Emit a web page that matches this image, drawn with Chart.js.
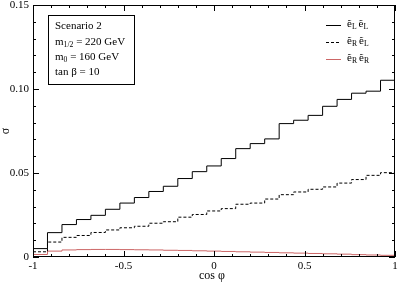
<!DOCTYPE html>
<html>
<head>
<meta charset="utf-8">
<script src="https://cdn.jsdelivr.net/npm/chart.js@4"></script>
<style>
  html, body { margin: 0; padding: 0; background: #fff; }
  canvas { display: block; }
</style>
</head>
<body>
<canvas id="chart" width="398" height="283"></canvas>
<script>
// Selectron pair production vs cos(phi) - Scenario 2

const binEdges = [-1, -0.92, -0.84, -0.76, -0.68, -0.6, -0.52, -0.44, -0.36, -0.28, -0.2,
  -0.12, -0.04, 0.04, 0.12, 0.2, 0.28, 0.36, 0.44, 0.52, 0.6, 0.68, 0.76, 0.84, 0.92, 1];

const sigmaLL = [0.0050, 0.0145, 0.0193, 0.0223, 0.0248, 0.0284, 0.0321, 0.0354, 0.0390, 0.0421,
  0.0467, 0.0508, 0.0542, 0.0586, 0.0645, 0.0675, 0.0703, 0.0794, 0.0814, 0.0843,
  0.0897, 0.0938, 0.0975, 0.0987, 0.1052];

const sigmaRL = [0.0031, 0.0089, 0.0117, 0.0128, 0.0146, 0.0161, 0.0174, 0.0183, 0.0201, 0.0210,
  0.0237, 0.0253, 0.0274, 0.0288, 0.0314, 0.0321, 0.0345, 0.0371, 0.0387, 0.0403,
  0.0417, 0.0440, 0.0461, 0.0486, 0.0502];

const sigmaRR = [0.0015, 0.0035, 0.0042, 0.0044, 0.0045, 0.0045, 0.0044, 0.0043, 0.0042, 0.0040,
  0.0039, 0.0037, 0.0035, 0.0033, 0.0031, 0.0029, 0.0027, 0.0025, 0.0023, 0.0021,
  0.0019, 0.0017, 0.0014, 0.0012, 0.0010];

const xTickLabels = ['-1', '-0.5', '0', '0.5', '1'];
const yTickLabels = ['0', '0.05', '0.10', '0.15'];

const legendSubs = [['L', 'L'], ['R', 'L'], ['R', 'R']];
const infoLines = ['Scenario 2', 'm|1/2| = 220 GeV', 'm|0| = 160 GeV', 'tan \u03b2 = 10'];

const SERIF = '"Liberation Serif", "DejaVu Serif", serif';

// histogram points: one per left bin edge, last edge repeats the last bin
function histPoints(values) {
  return binEdges.map((x, i) => ({ x: x, y: values[Math.min(i, values.length - 1)] }));
}

// draw text with |sub| parts as subscripts
function drawRich(ctx, str, x, y, size) {
  const parts = str.split('|');
  parts.forEach((p, i) => {
    const sub = i % 2 === 1;
    ctx.font = (sub ? size * 0.7 : size) + 'px ' + SERIF;
    ctx.fillText(p, x, sub ? y + 3 : y);
    x += ctx.measureText(p).width;
  });
  return x;
}

const framePlugin = {
  id: 'frame',
  afterDraw(chart) {
    const ctx = chart.ctx;
    const a = chart.chartArea;
    const xs = chart.scales.x, ys = chart.scales.y;
    ctx.save();
    ctx.strokeStyle = '#000';
    ctx.fillStyle = '#000';
    ctx.lineWidth = 1;
    ctx.strokeRect(Math.round(a.left) + 0.5, Math.round(a.top) + 0.5,
      Math.round(a.right - a.left) - 1, Math.round(a.bottom - a.top) - 1);

    // inward ticks on all four sides
    ctx.beginPath();
    for (let k = 0; k <= 20; k++) {
      const v = -1 + k * 0.1;
      const px = Math.round(xs.getPixelForValue(v)) + 0.5;
      const len = k % 5 === 0 ? 6 : 3;
      ctx.moveTo(px, a.bottom); ctx.lineTo(px, a.bottom - len);
      ctx.moveTo(px, a.top); ctx.lineTo(px, a.top + len);
    }
    for (let k = 0; k <= 15; k++) {
      const v = k * 0.01;
      const py = Math.round(ys.getPixelForValue(v)) + 0.5;
      const len = k % 5 === 0 ? 6 : 3;
      ctx.moveTo(a.left, py); ctx.lineTo(a.left + len, py);
      ctx.moveTo(a.right, py); ctx.lineTo(a.right - len, py);
    }
    ctx.stroke();

    // tick labels from the scales' own ticks
    ctx.font = '11px ' + SERIF;
    ctx.textBaseline = 'middle';
    ctx.textAlign = 'center';
    xs.ticks.forEach((t, i) => ctx.fillText(xTickLabels[i], xs.getPixelForValue(t.value), a.bottom + 9));
    ctx.textAlign = 'right';
    ys.ticks.forEach((t, i) => ctx.fillText(yTickLabels[i], a.left - 4, ys.getPixelForValue(t.value)));

    // parameter box
    ctx.strokeRect(48.5, 15.5, 86, 69);
    ctx.textAlign = 'left';
    [26, 42, 57, 72].forEach((y, i) => drawRich(ctx, infoLines[i], 55, y, 11));

    // legend
    const styles = chart.data.datasets;
    [25, 42, 59].forEach((y, i) => {
      const ds = styles[i];
      ctx.strokeStyle = ds.borderColor;
      ctx.setLineDash(ds.borderDash || []);
      ctx.beginPath();
      ctx.moveTo(326, y + 0.5); ctx.lineTo(341, y + 0.5);
      ctx.stroke();
      ctx.setLineDash([]);
      let x = 347;
      x = drawRich(ctx, '\u1ebd|' + legendSubs[i][0] + '|', x, y - 1, 11);
      drawRich(ctx, '\u1ebd|' + legendSubs[i][1] + '|', x + 2, y - 1, 11);
    });

    // axis titles
    ctx.font = '12px ' + SERIF;
    ctx.fillText('cos \u03c6', 199, 276);
    ctx.translate(6, 131);
    ctx.rotate(-Math.PI / 2);
    ctx.textAlign = 'center';
    ctx.fillText('\u03c3', 0, 0);
    ctx.restore();
  }
};

new Chart(document.getElementById('chart'), {
  type: 'line',
  data: {
    datasets: [
      { label: 'LL', data: histPoints(sigmaLL), borderColor: '#000', borderWidth: 1 },
      { label: 'RL', data: histPoints(sigmaRL), borderColor: '#000', borderWidth: 1, borderDash: [3, 2] },
      { label: 'RR', data: histPoints(sigmaRR), borderColor: '#cc6666', borderWidth: 1 }
    ]
  },
  options: {
    responsive: false,
    animation: false,
    devicePixelRatio: 1,
    layout: { padding: { top: 5, right: 3, left: 0, bottom: 0 } },
    elements: {
      point: { radius: 0 },
      line: { stepped: 'before', tension: 0 }
    },
    plugins: {
      legend: { display: false },
      tooltip: { enabled: false }
    },
    scales: {
      x: {
        type: 'linear',
        min: -1,
        max: 1,
        grid: { display: false },
        border: { display: false },
        ticks: { stepSize: 0.5, display: false },
        afterFit: s => { s.height = 26; }
      },
      y: {
        min: 0,
        max: 0.15,
        grid: { display: false },
        border: { display: false },
        ticks: { stepSize: 0.05, display: false },
        afterFit: s => { s.width = 33; }
      }
    }
  },
  plugins: [framePlugin]
});
</script>
</body>
</html>
